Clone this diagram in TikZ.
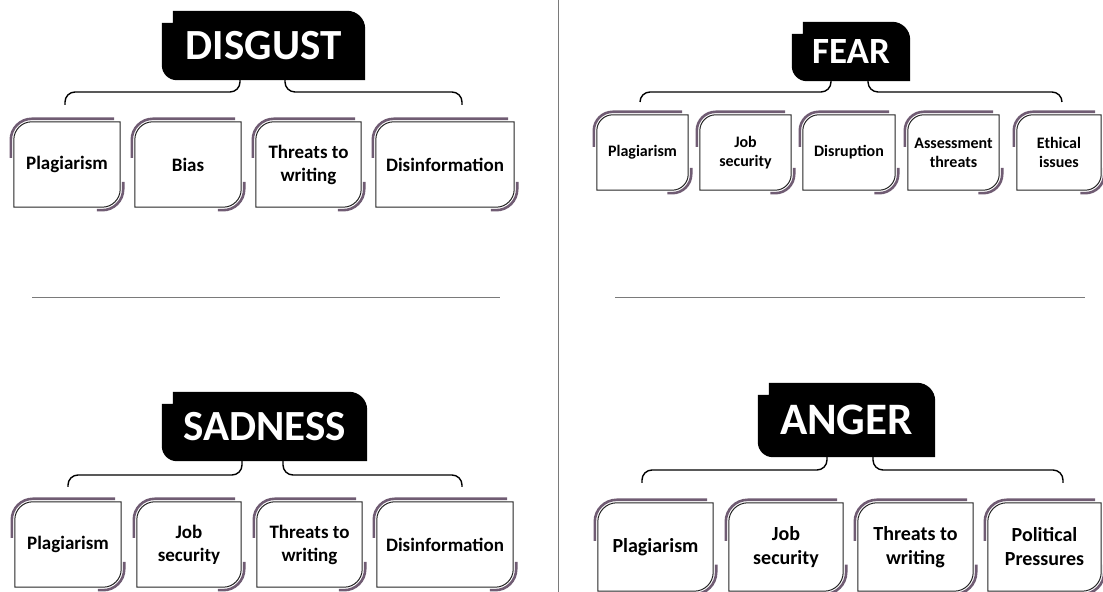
\documentclass[tikz,border=0pt]{standalone}
\usepackage{fontspec}
\setmainfont{Carlito}
\usetikzlibrary{backgrounds}
\definecolor{edge}{HTML}{705C73}
\definecolor{rule}{HTML}{7A7A7A}

\tikzset{
  head/.style={inner sep=0pt, text=white, font=\bfseries\fontsize{43bp}{43bp}\selectfont},
  card/.style={inner sep=0pt, align=center, font=\bfseries\fontsize{19bp}{23bp}\selectfont},
  smallcard/.style={card, font=\bfseries\fontsize{16bp}{19bp}\selectfont},
  bigcard/.style={card, font=\bfseries\fontsize{20bp}{24bp}\selectfont},
  link/.style={line width=1.4bp, rounded corners=10bp},
  shade/.style={draw=edge, line width=2.6bp},
  rim/.style={draw=black!85, line width=1bp, fill=white},
  divider/.style={draw=rule, line width=1bp},
}

% black title tab with a notch at the top left
\newcommand{\headframe}[1]{%
  \fill ([yshift=-18bp]#1.north east) arc[start angle=0,end angle=90,radius=18bp]
    -- ([xshift=11bp]#1.north west) -- ([xshift=11bp,yshift=-12bp]#1.north west)
    -- ([yshift=-12bp]#1.north west) -- ([yshift=15bp]#1.south west)
    arc[start angle=180,end angle=270,radius=15bp] -- (#1.south east) -- cycle;
}
% card outline, rounded top left and bottom right
\newcommand{\cardframe}[2][18bp]{%
  \draw[shade] ([xshift=-3bp,yshift=-#1*2]#2.north west) -- ([xshift=-3bp,yshift=-#1]#2.north west)
    arc[start angle=180,end angle=90,radius=#1+3bp] -- ([xshift=-6bp,yshift=3bp]#2.north east);
  \draw[shade] ([xshift=3bp,yshift=#1*1.4]#2.south east) -- ([xshift=3bp,yshift=#1]#2.south east)
    arc[start angle=0,end angle=-90,radius=#1+3bp] -- ([xshift=-#1*1.3,yshift=-3bp]#2.south east);
  \draw[rim] (#2.north east) -- ([xshift=#1]#2.north west)
    arc[start angle=90,end angle=180,radius=#1] -- (#2.south west)
    -- ([xshift=-#1]#2.south east) arc[start angle=270,end angle=360,radius=#1] -- cycle;
}

\begin{document}
\begin{tikzpicture}[x=1bp,y=1bp]
  \useasboundingbox (0,0) rectangle (1103,592);

  % disgust
  \path
  (263.5,546.5) node[head, minimum width=203bp, minimum height=69bp](disgust) {DISGUST}
  (67,427.5) node[card, minimum width=106bp, minimum height=85bp](dg1) {Plagiarism}
  (188,427.5) node[card, minimum width=106bp, minimum height=85bp](dg2) {Bias}
  (308.5,427.5) node[card, minimum width=105bp, minimum height=85bp](dg3) {Threats to\\writing}
  (445,427.5) node[card, minimum width=138bp, minimum height=85bp](dg4) {Disinformation}
  ;
  \coordinate (dgl) at (65,487);
  \coordinate (dgr) at (462,487);

  % fear
  \path
  (851,540.5) node[head, minimum width=118bp, minimum height=59bp,
    font=\bfseries\fontsize{37bp}{37bp}\selectfont](fear) {FEAR}
  (642.5,439.5) node[smallcard, minimum width=91bp, minimum height=75bp](fr1) {Plagiarism}
  (745.5,439.5) node[smallcard, minimum width=91bp, minimum height=75bp](fr2) {Job\\security}
  (849,439.5) node[smallcard, minimum width=92bp, minimum height=75bp](fr3) {Disruption}
  (953.5,439.5) node[smallcard, minimum width=91bp, minimum height=75bp](fr4) {Assessment\\threats}
  (1059,439.5) node[smallcard, minimum width=84bp, minimum height=75bp](fr5) {Ethical\\issues}
  ;
  \coordinate (frl) at (640,490);
  \coordinate (frr) at (1062,490);

  % sadness
  \path
  (264.5,165.5) node[head, minimum width=205bp, minimum height=69bp](sadness) {SADNESS}
  (68,47.5) node[card, minimum width=106bp, minimum height=85bp](sd1) {Plagiarism}
  (189,47.5) node[card, minimum width=104bp, minimum height=85bp](sd2) {Job\\security}
  (309.5,47.5) node[card, minimum width=105bp, minimum height=85bp](sd3) {Threats to\\writing}
  (445,47.5) node[card, minimum width=136bp, minimum height=85bp](sd4) {Disinformation}
  ;
  \coordinate (sdl) at (68,105);
  \coordinate (sdr) at (462,105);

  % anger
  \path
  (846.5,172) node[head, minimum width=177bp, minimum height=74bp,
    font=\bfseries\fontsize{45bp}{45bp}\selectfont](anger) {ANGER}
  (655.5,45) node[bigcard, minimum width=115bp, minimum height=88bp](ag1) {Plagiarism}
  (786,45) node[bigcard, minimum width=114bp, minimum height=88bp](ag2) {Job\\security}
  (915.5,45) node[bigcard, minimum width=115bp, minimum height=88bp](ag3) {Threats to\\writing}
  (1044.5,45) node[bigcard, minimum width=113bp, minimum height=88bp](ag4) {Political\\Pressures}
  ;
  \coordinate (agl) at (642,109);
  \coordinate (agr) at (1063,109);

  \begin{scope}[on background layer]
    \headframe{disgust}
    \headframe{fear}
    \headframe{sadness}
    \headframe{anger}
    \foreach \c in {dg1,dg2,dg3,dg4,sd1,sd2,sd3,sd4}
      \cardframe{\c};
    \foreach \c in {ag1,ag2,ag3,ag4}
      \cardframe[19bp]{\c};
    \foreach \c in {fr1,fr2,fr3,fr4,fr5}
      \cardframe[16bp]{\c};
  \end{scope}

  \draw[link] ([xshift=-23.5bp]disgust.south) |- ([yshift=13bp]dgl) -- (dgl);
  \draw[link] ([xshift=21.5bp]disgust.south) |- ([yshift=13bp]dgr) -- (dgr);
  \draw[link] ([xshift=-20bp]fear.south) |- ([yshift=10bp]frl) -- (frl);
  \draw[link] ([xshift=17bp]fear.south) |- ([yshift=10bp]frr) -- (frr);
  \draw[link] ([xshift=-22.5bp]sadness.south) |- ([yshift=12bp]sdl) -- (sdl);
  \draw[link] ([xshift=18.5bp]sadness.south) |- ([yshift=12bp]sdr) -- (sdr);
  \draw[link] ([xshift=-19.5bp]anger.south) |- ([yshift=13bp]agl) -- (agl);
  \draw[link] ([xshift=26.5bp]anger.south) |- ([yshift=13bp]agr) -- (agr);

  % rules between the panels
  \draw[divider] (558,592) -- (558,0);
  \draw[divider] (32,294) -- (500,294);
  \draw[divider] (615,294) -- (1085,294);
\end{tikzpicture}
\end{document}
